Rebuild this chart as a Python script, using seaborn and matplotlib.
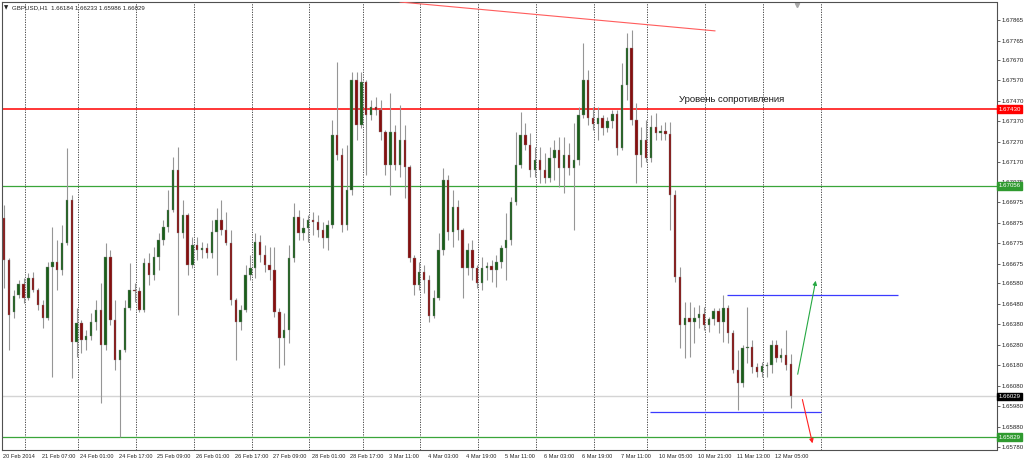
import numpy as np
import pandas as pd
import matplotlib
matplotlib.use('Agg')
import matplotlib.pyplot as plt
import seaborn as sns

# GBPUSD H1, drawn as 2-hour candles (bar index = hours since 20 Feb 15:00)
opens = [
    1.66899, 1.66694, 1.66440, 1.66523, 1.66577, 1.66509, 1.66606, 1.66548, 1.66475, 1.66411,
    1.66660, 1.66684, 1.66645, 1.66777, 1.66987, 1.66294, 1.66387, 1.66304, 1.66323, 1.66392,
    1.66450, 1.66279, 1.66709, 1.66401, 1.66206, 1.66255, 1.66460, 1.66548, 1.66543, 1.66450,
    1.66680, 1.66621, 1.66709, 1.66792, 1.66855, 1.66938, 1.67133, 1.66826, 1.66914, 1.66670,
    1.66767, 1.66743, 1.66753, 1.66728, 1.66831, 1.66889, 1.66841, 1.66777, 1.66499, 1.66392,
    1.66450, 1.66621, 1.66655, 1.66782, 1.66719, 1.66670, 1.66645, 1.66440, 1.66314, 1.66353,
    1.66704, 1.66904, 1.66826, 1.66850, 1.66889, 1.66880, 1.66841, 1.66802, 1.66865, 1.67304,
    1.67207, 1.66865, 1.67036, 1.67573, 1.67353, 1.67563, 1.67402, 1.67441, 1.67426, 1.67319,
    1.67158, 1.67319, 1.67158, 1.67280, 1.67148, 1.66704, 1.66572, 1.66636, 1.66597, 1.66421,
    1.66509, 1.66743, 1.67085, 1.66831, 1.66953, 1.66841, 1.66655, 1.66743, 1.66655, 1.66582,
    1.66655, 1.66665, 1.66645, 1.66684, 1.66753, 1.66792, 1.66977, 1.67158, 1.67304, 1.67255,
    1.67133, 1.67182, 1.67133, 1.67094, 1.67192, 1.67231, 1.67143, 1.67207, 1.67143, 1.67182,
    1.67402, 1.67573, 1.67387, 1.67358, 1.67387, 1.67338, 1.67372, 1.67407, 1.67241, 1.67548,
    1.67729, 1.67377, 1.67207, 1.67280, 1.67192, 1.67343, 1.67314, 1.67324, 1.67309, 1.67011,
    1.66611, 1.66377, 1.66411, 1.66392, 1.66411, 1.66431, 1.66377, 1.66406, 1.66445, 1.66392,
    1.66460, 1.66338, 1.66157, 1.66094, 1.66265, 1.66270, 1.66172, 1.66148, 1.66177, 1.66182,
    1.66279, 1.66216, 1.66231, 1.66184,
]
highs = [
    1.66963, 1.66704, 1.66548, 1.66597, 1.66606, 1.66631, 1.66636, 1.66558, 1.66499, 1.66684,
    1.66855, 1.66792, 1.66865, 1.67241, 1.67011, 1.66460, 1.66401, 1.66353, 1.66436, 1.66499,
    1.66582, 1.66777, 1.66743, 1.66499, 1.66231, 1.66499, 1.66680, 1.66582, 1.66562, 1.66704,
    1.66728, 1.66758, 1.66826, 1.66889, 1.67036, 1.67197, 1.67246, 1.66987, 1.66924, 1.66806,
    1.66806, 1.66782, 1.66777, 1.66889, 1.66948, 1.66987, 1.66928, 1.66841, 1.66509, 1.66475,
    1.66670, 1.66719, 1.66826, 1.66816, 1.66767, 1.66758, 1.66758, 1.66460, 1.66436, 1.66767,
    1.66972, 1.66938, 1.66899, 1.66914, 1.66928, 1.66914, 1.66880, 1.66889, 1.67377, 1.67660,
    1.67241, 1.67255, 1.67612, 1.67612, 1.67612, 1.67573, 1.67475, 1.67490, 1.67475, 1.67329,
    1.67509, 1.67353, 1.67451, 1.67353, 1.67158, 1.66719, 1.66684, 1.66670, 1.66621, 1.66548,
    1.66826, 1.67143, 1.67109, 1.67036, 1.66987, 1.66850, 1.66777, 1.66792, 1.66670, 1.66709,
    1.66684, 1.66694, 1.66719, 1.66767, 1.66924, 1.67002, 1.67319, 1.67416, 1.67363, 1.67314,
    1.67246, 1.67246, 1.67216, 1.67246, 1.67280, 1.67294, 1.67294, 1.67265, 1.67363, 1.67441,
    1.67753, 1.67621, 1.67441, 1.67441, 1.67402, 1.67392, 1.67426, 1.67426, 1.67656, 1.67802,
    1.67817, 1.67460, 1.67343, 1.67377, 1.67402, 1.67412, 1.67353, 1.67368, 1.67368, 1.67036,
    1.66660, 1.66489, 1.66489, 1.66465, 1.66475, 1.66465, 1.66416, 1.66460, 1.66460, 1.66523,
    1.66475, 1.66353, 1.66255, 1.66279, 1.66465, 1.66304, 1.66192, 1.66196, 1.66196, 1.66304,
    1.66304, 1.66265, 1.66353, 1.66233,
]
lows = [
    1.66558, 1.66255, 1.66411, 1.66509, 1.66484, 1.66499, 1.66538, 1.66450, 1.66363, 1.66401,
    1.66123, 1.66548, 1.66621, 1.66767, 1.66118, 1.66221, 1.66240, 1.66255, 1.66304, 1.66353,
    1.65996, 1.66255, 1.66377, 1.66157, 1.65830, 1.66245, 1.66450, 1.66489, 1.66440, 1.66440,
    1.66572, 1.66597, 1.66645, 1.66767, 1.66831, 1.66928, 1.66426, 1.66802, 1.66621, 1.66655,
    1.66694, 1.66704, 1.66704, 1.66704, 1.66621, 1.66816, 1.66767, 1.66475, 1.66206, 1.66353,
    1.66440, 1.66597, 1.66606, 1.66684, 1.66636, 1.66597, 1.66416, 1.66167, 1.66182, 1.66289,
    1.66684, 1.66792, 1.66792, 1.66782, 1.66816, 1.66806, 1.66753, 1.66743, 1.66850, 1.67182,
    1.66831, 1.66841, 1.67011, 1.67280, 1.67338, 1.67109, 1.67377, 1.67402, 1.67280, 1.67109,
    1.67011, 1.67133, 1.67099, 1.66997, 1.66684, 1.66523, 1.66548, 1.66533, 1.66392, 1.66411,
    1.66499, 1.66719, 1.66792, 1.66758, 1.66792, 1.66509, 1.66621, 1.66597, 1.66558, 1.66548,
    1.66597, 1.66587, 1.66562, 1.66655, 1.66597, 1.66767, 1.66963, 1.67143, 1.67231, 1.67099,
    1.67099, 1.67070, 1.67070, 1.67075, 1.67085, 1.67050, 1.67021, 1.67109, 1.66841, 1.67158,
    1.67387, 1.67353, 1.67329, 1.67280, 1.67304, 1.67319, 1.67338, 1.67207, 1.67231, 1.67475,
    1.67353, 1.67070, 1.67148, 1.67172, 1.67172, 1.67280, 1.67280, 1.67280, 1.66841, 1.66587,
    1.66265, 1.66216, 1.66221, 1.66289, 1.66363, 1.66353, 1.66343, 1.66377, 1.66338, 1.66294,
    1.66289, 1.66143, 1.65962, 1.66074, 1.66192, 1.66143, 1.66123, 1.66123, 1.66123, 1.66143,
    1.66196, 1.66196, 1.66157, 1.65972,
]
closes = [
    1.66694, 1.66426, 1.66519, 1.66577, 1.66509, 1.66606, 1.66548, 1.66475, 1.66411, 1.66660,
    1.66684, 1.66645, 1.66777, 1.66987, 1.66294, 1.66387, 1.66304, 1.66323, 1.66392, 1.66450,
    1.66279, 1.66709, 1.66401, 1.66206, 1.66255, 1.66460, 1.66548, 1.66543, 1.66450, 1.66680,
    1.66621, 1.66709, 1.66792, 1.66855, 1.66938, 1.67133, 1.66826, 1.66914, 1.66670, 1.66767,
    1.66743, 1.66753, 1.66728, 1.66831, 1.66889, 1.66841, 1.66777, 1.66499, 1.66392, 1.66450,
    1.66621, 1.66655, 1.66782, 1.66719, 1.66670, 1.66645, 1.66440, 1.66314, 1.66353, 1.66704,
    1.66904, 1.66826, 1.66850, 1.66889, 1.66880, 1.66841, 1.66802, 1.66865, 1.67304, 1.67207,
    1.66865, 1.67036, 1.67573, 1.67353, 1.67563, 1.67402, 1.67441, 1.67426, 1.67319, 1.67158,
    1.67319, 1.67158, 1.67280, 1.67148, 1.66704, 1.66572, 1.66636, 1.66597, 1.66421, 1.66509,
    1.66743, 1.67085, 1.66831, 1.66953, 1.66841, 1.66655, 1.66743, 1.66655, 1.66582, 1.66655,
    1.66665, 1.66645, 1.66684, 1.66753, 1.66792, 1.66977, 1.67158, 1.67304, 1.67255, 1.67133,
    1.67182, 1.67133, 1.67094, 1.67192, 1.67231, 1.67143, 1.67207, 1.67143, 1.67182, 1.67402,
    1.67573, 1.67387, 1.67358, 1.67387, 1.67338, 1.67372, 1.67407, 1.67241, 1.67548, 1.67729,
    1.67377, 1.67207, 1.67280, 1.67192, 1.67343, 1.67314, 1.67324, 1.67309, 1.67011, 1.66611,
    1.66377, 1.66411, 1.66392, 1.66411, 1.66431, 1.66377, 1.66406, 1.66445, 1.66392, 1.66460,
    1.66338, 1.66157, 1.66094, 1.66265, 1.66270, 1.66172, 1.66148, 1.66177, 1.66182, 1.66279,
    1.66216, 1.66231, 1.66182, 1.66029,
]

# time axis labels (every 16 hourly bars) and day separators
xtick_bars = [0, 16, 32, 48, 64, 80, 96, 112, 128, 144, 160, 176, 192, 208, 224, 240, 256, 272, 288, 304, 320]
xtick_labels = ['20 Feb 2014', '21 Feb 07:00', '24 Feb 01:00', '24 Feb 17:00', '25 Feb 09:00',
                '26 Feb 01:00', '26 Feb 17:00', '27 Feb 09:00', '28 Feb 01:00', '28 Feb 17:00',
                '3 Mar 11:00', '4 Mar 03:00', '4 Mar 19:00', '5 Mar 11:00', '6 Mar 03:00',
                '6 Mar 19:00', '7 Mar 11:00', '10 Mar 05:00', '10 Mar 21:00', '11 Mar 13:00',
                '12 Mar 05:00']
day_bars = [9, 31, 55, 79, 103, 127, 149, 173, 197, 221, 245, 267, 291, 315, 339]
ytick_prices = [1.67865, 1.67765, 1.67670, 1.67570, 1.67470, 1.67370, 1.67270, 1.67170, 1.67075,
                1.66975, 1.66875, 1.66775, 1.66675, 1.66580, 1.66480, 1.66380, 1.66280, 1.66180,
                1.66080, 1.65980, 1.65880, 1.65780]

# drawn objects
resistance = 1.67430
support_hi = 1.67056
support_lo = 1.65829
bid = 1.66029
trend_bars = [164.5, 295.1]
trend_prices = [1.67953, 1.67812]
box_top_bars = [300.0, 370.9]
box_top_price = 1.66523
box_bot_bars = [268.1, 339.0]
box_bot_price = 1.65952
up_arrow = [(329.1, 1.66123), (337.0, 1.66606)]
down_arrow = [(331.0, 1.66026), (335.7, 1.65786)]

df = pd.DataFrame({'open': opens, 'high': highs, 'low': lows, 'close': closes})
df['bar'] = np.arange(len(df)) * 2 + 0.5
df['up'] = df['close'] >= df['open']

sns.set_style('white')
plt.rcParams['font.family'] = ['Liberation Sans', 'DejaVu Sans']

fig = plt.figure(figsize=(10.24, 4.62), dpi=100)
ax = fig.add_axes([2 / 1024, 12.5 / 462, 994.5 / 1024, 447.5 / 462])
ax.set_xlim(-0.41, 411.7)
ax.set_ylim(1.65769, 1.67953)

for b in day_bars:
    ax.axvline(b, color='#303030', lw=0.6, ls=(0, (1.5, 1.5)), zorder=0)

ax.axhline(bid, color='#d4d4d4', lw=1.0, zorder=1)
ax.axhline(resistance, color='#ff0000', lw=1.1, zorder=1)
ax.axhline(support_hi, color='#3aa53a', lw=0.9, zorder=1)
ax.axhline(support_lo, color='#3aa53a', lw=0.9, zorder=1)

# candles
ax.vlines(df['bar'], df['low'], df['high'], color='#969696', lw=0.8, zorder=2)
body_lo = df[['open', 'close']].min(axis=1)
body_h = (df['close'] - df['open']).abs().clip(lower=0.00003)
colors = np.where(df['up'], '#1a5e1a', '#860f0f')
ax.bar(df['bar'], body_h, bottom=body_lo, width=1.0, color=colors,
       edgecolor='#8a8a8a', linewidth=0.25, zorder=3)

sns.lineplot(x=trend_bars, y=trend_prices, color='#ff5c5c', lw=0.8, ax=ax, zorder=4)
ax.hlines(box_top_price, box_top_bars[0], box_top_bars[1], color='#3b3bff', lw=0.9, zorder=4)
ax.hlines(box_bot_price, box_bot_bars[0], box_bot_bars[1], color='#3b3bff', lw=0.9, zorder=4)
ax.annotate('', xy=up_arrow[1], xytext=up_arrow[0],
            arrowprops=dict(arrowstyle='-|>', color='#26a843', lw=0.8, mutation_scale=6), zorder=5)
ax.annotate('', xy=down_arrow[1], xytext=down_arrow[0],
            arrowprops=dict(arrowstyle='-|>', color='#ff2222', lw=0.8, mutation_scale=6),
            annotation_clip=False, zorder=5)

ax.text(280.1, 1.67475, 'Уровень сопротивления', fontsize=6.8, color='#1a1a1a',
        ha='left', va='center')
ax.plot(329, 1.67940, marker='v', color='#a8a8a8', ms=3, clip_on=False)

# axes styling
for s in ax.spines.values():
    s.set_color('#505050')
    s.set_linewidth(0.8)
ax.yaxis.tick_right()
ax.set_yticks(ytick_prices)
ax.set_yticklabels([f'{v:.5f}' for v in ytick_prices])
ax.tick_params(axis='y', length=2.5, width=0.5, labelsize=4.4, pad=1.5, colors='#222222')
ax.set_xticks(xtick_bars)
ax.set_xticklabels(xtick_labels)
ax.tick_params(axis='x', length=2.5, width=0.5, labelsize=4.1, pad=1, colors='#222222')
for lbl in ax.get_xticklabels():
    lbl.set_horizontalalignment('left')

tags = [(resistance, '#ff0000'), (support_hi, '#2f9a2f'), (bid, '#000000'), (support_lo, '#2f9a2f')]
for price, col in tags:
    ax.annotate(f'{price:.5f}', xy=(1.0, price), xycoords=('axes fraction', 'data'),
                xytext=(1.3, 0), textcoords='offset points', va='center', ha='left',
                fontsize=4.4, color='white', annotation_clip=False, zorder=10,
                bbox=dict(boxstyle='square,pad=0.2', fc=col, ec=col))

fig.text(4 / 1024, 1 - 7.5 / 462, '▼', fontsize=4, color='#222222', va='center',
         family=['DejaVu Sans'])
fig.text(12 / 1024, 1 - 7.5 / 462, 'GBPUSD,H1  1.66184 1.66233 1.65986 1.66029',
         fontsize=4.4, color='#222222', va='center')

fig.savefig('out.png', dpi=100)
